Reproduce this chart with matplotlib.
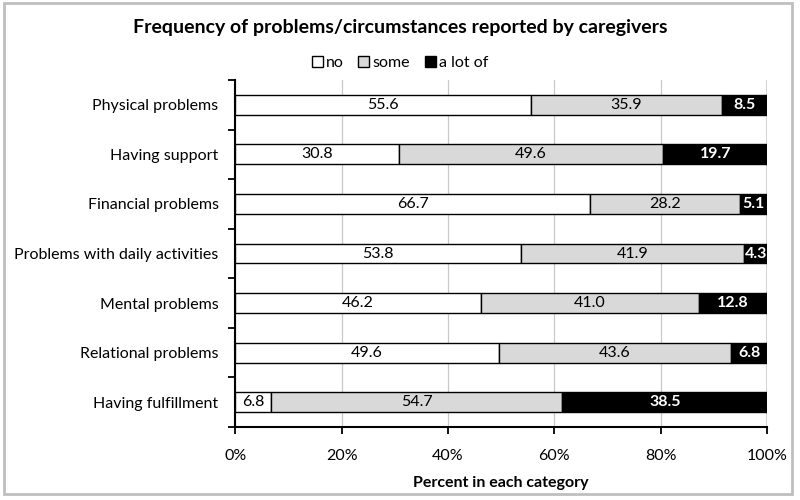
import matplotlib.pyplot as plt
from matplotlib.patches import Patch, Rectangle
import numpy as np

plt.rcParams['font.family'] = ['Lato', 'DejaVu Sans']

categories = ['Physical problems', 'Having support', 'Financial problems',
              'Problems with daily activities', 'Mental problems',
              'Relational problems', 'Having fulfillment']
no_vals = [55.6, 30.8, 66.7, 53.8, 46.2, 49.6, 6.8]
some_vals = [35.9, 49.6, 28.2, 41.9, 41.0, 43.6, 54.7]
alot_vals = [8.5, 19.7, 5.1, 4.3, 12.8, 6.8, 38.5]
series_names = ['no', 'some', 'a lot of']
xticks = [0, 20, 40, 60, 80, 100]

fig = plt.figure(figsize=(8, 5), dpi=100)
ax = fig.add_axes([0.294, 0.146, 0.665, 0.694])

y = np.arange(len(categories))
left = np.zeros(len(categories))
colors = ['white', '#d9d9d9', 'black']
txt_colors = ['black', 'black', 'white']
weights = ['normal', 'normal', 'bold']
for vals, col, tc, fw in zip([no_vals, some_vals, alot_vals], colors, txt_colors, weights):
    vals = np.array(vals)
    ax.barh(y, vals, left=left, height=0.4, color=col, edgecolor='black', linewidth=1, zorder=3)
    for yi, l, v in zip(y, left, vals):
        ax.text(l + v / 2, yi, f'{v:.1f}', ha='center', va='center', color=tc,
                fontsize=11.5, fontweight=fw, zorder=4)
    left = left + vals

ax.set_xlim(0, 100)
ax.set_ylim(len(categories) - 0.5, -0.5)
ax.set_xticks(xticks)
ax.set_xticklabels([f'{t}%' for t in xticks], fontsize=11.5)
ax.set_yticks(y)
ax.set_yticklabels(categories, fontsize=11.5)
ax.tick_params(axis='y', length=0, pad=12)
ax.set_yticks(np.arange(-0.5, len(categories)), minor=True)
ax.tick_params(axis='y', which='minor', length=5, width=1.3, direction='out')
ax.tick_params(axis='x', length=5, width=1.3, direction='out', pad=11)
ax.xaxis.grid(True, color='#c8c8c8', linewidth=0.9)
ax.set_axisbelow(True)
for s in ['top', 'right']:
    ax.spines[s].set_visible(False)
for s in ['left', 'bottom']:
    ax.spines[s].set_linewidth(1.5)
ax.axvline(100, color='#d0d0d0', linewidth=2, zorder=1)

ax.set_xlabel('Percent in each category', fontsize=11.5, fontweight='bold', labelpad=9)

handles = [Patch(facecolor=c, edgecolor='black', linewidth=1) for c in colors]
fig.legend(handles, series_names, loc='center', bbox_to_anchor=(0.5, 0.874), ncol=3,
           frameon=False, fontsize=11.5, handlelength=0.7, handleheight=0.7,
           handletextpad=0.2, columnspacing=0.9)

fig.text(0.5, 0.944, 'Frequency of problems/circumstances reported by caregivers',
         ha='center', va='center', fontsize=14, fontweight='bold')

fig.add_artist(Rectangle((0.005, 0.012), 0.985, 0.982, transform=fig.transFigure,
                         fill=False, edgecolor='#bfbfbf', linewidth=2))

fig.savefig('out.png', dpi=100)
